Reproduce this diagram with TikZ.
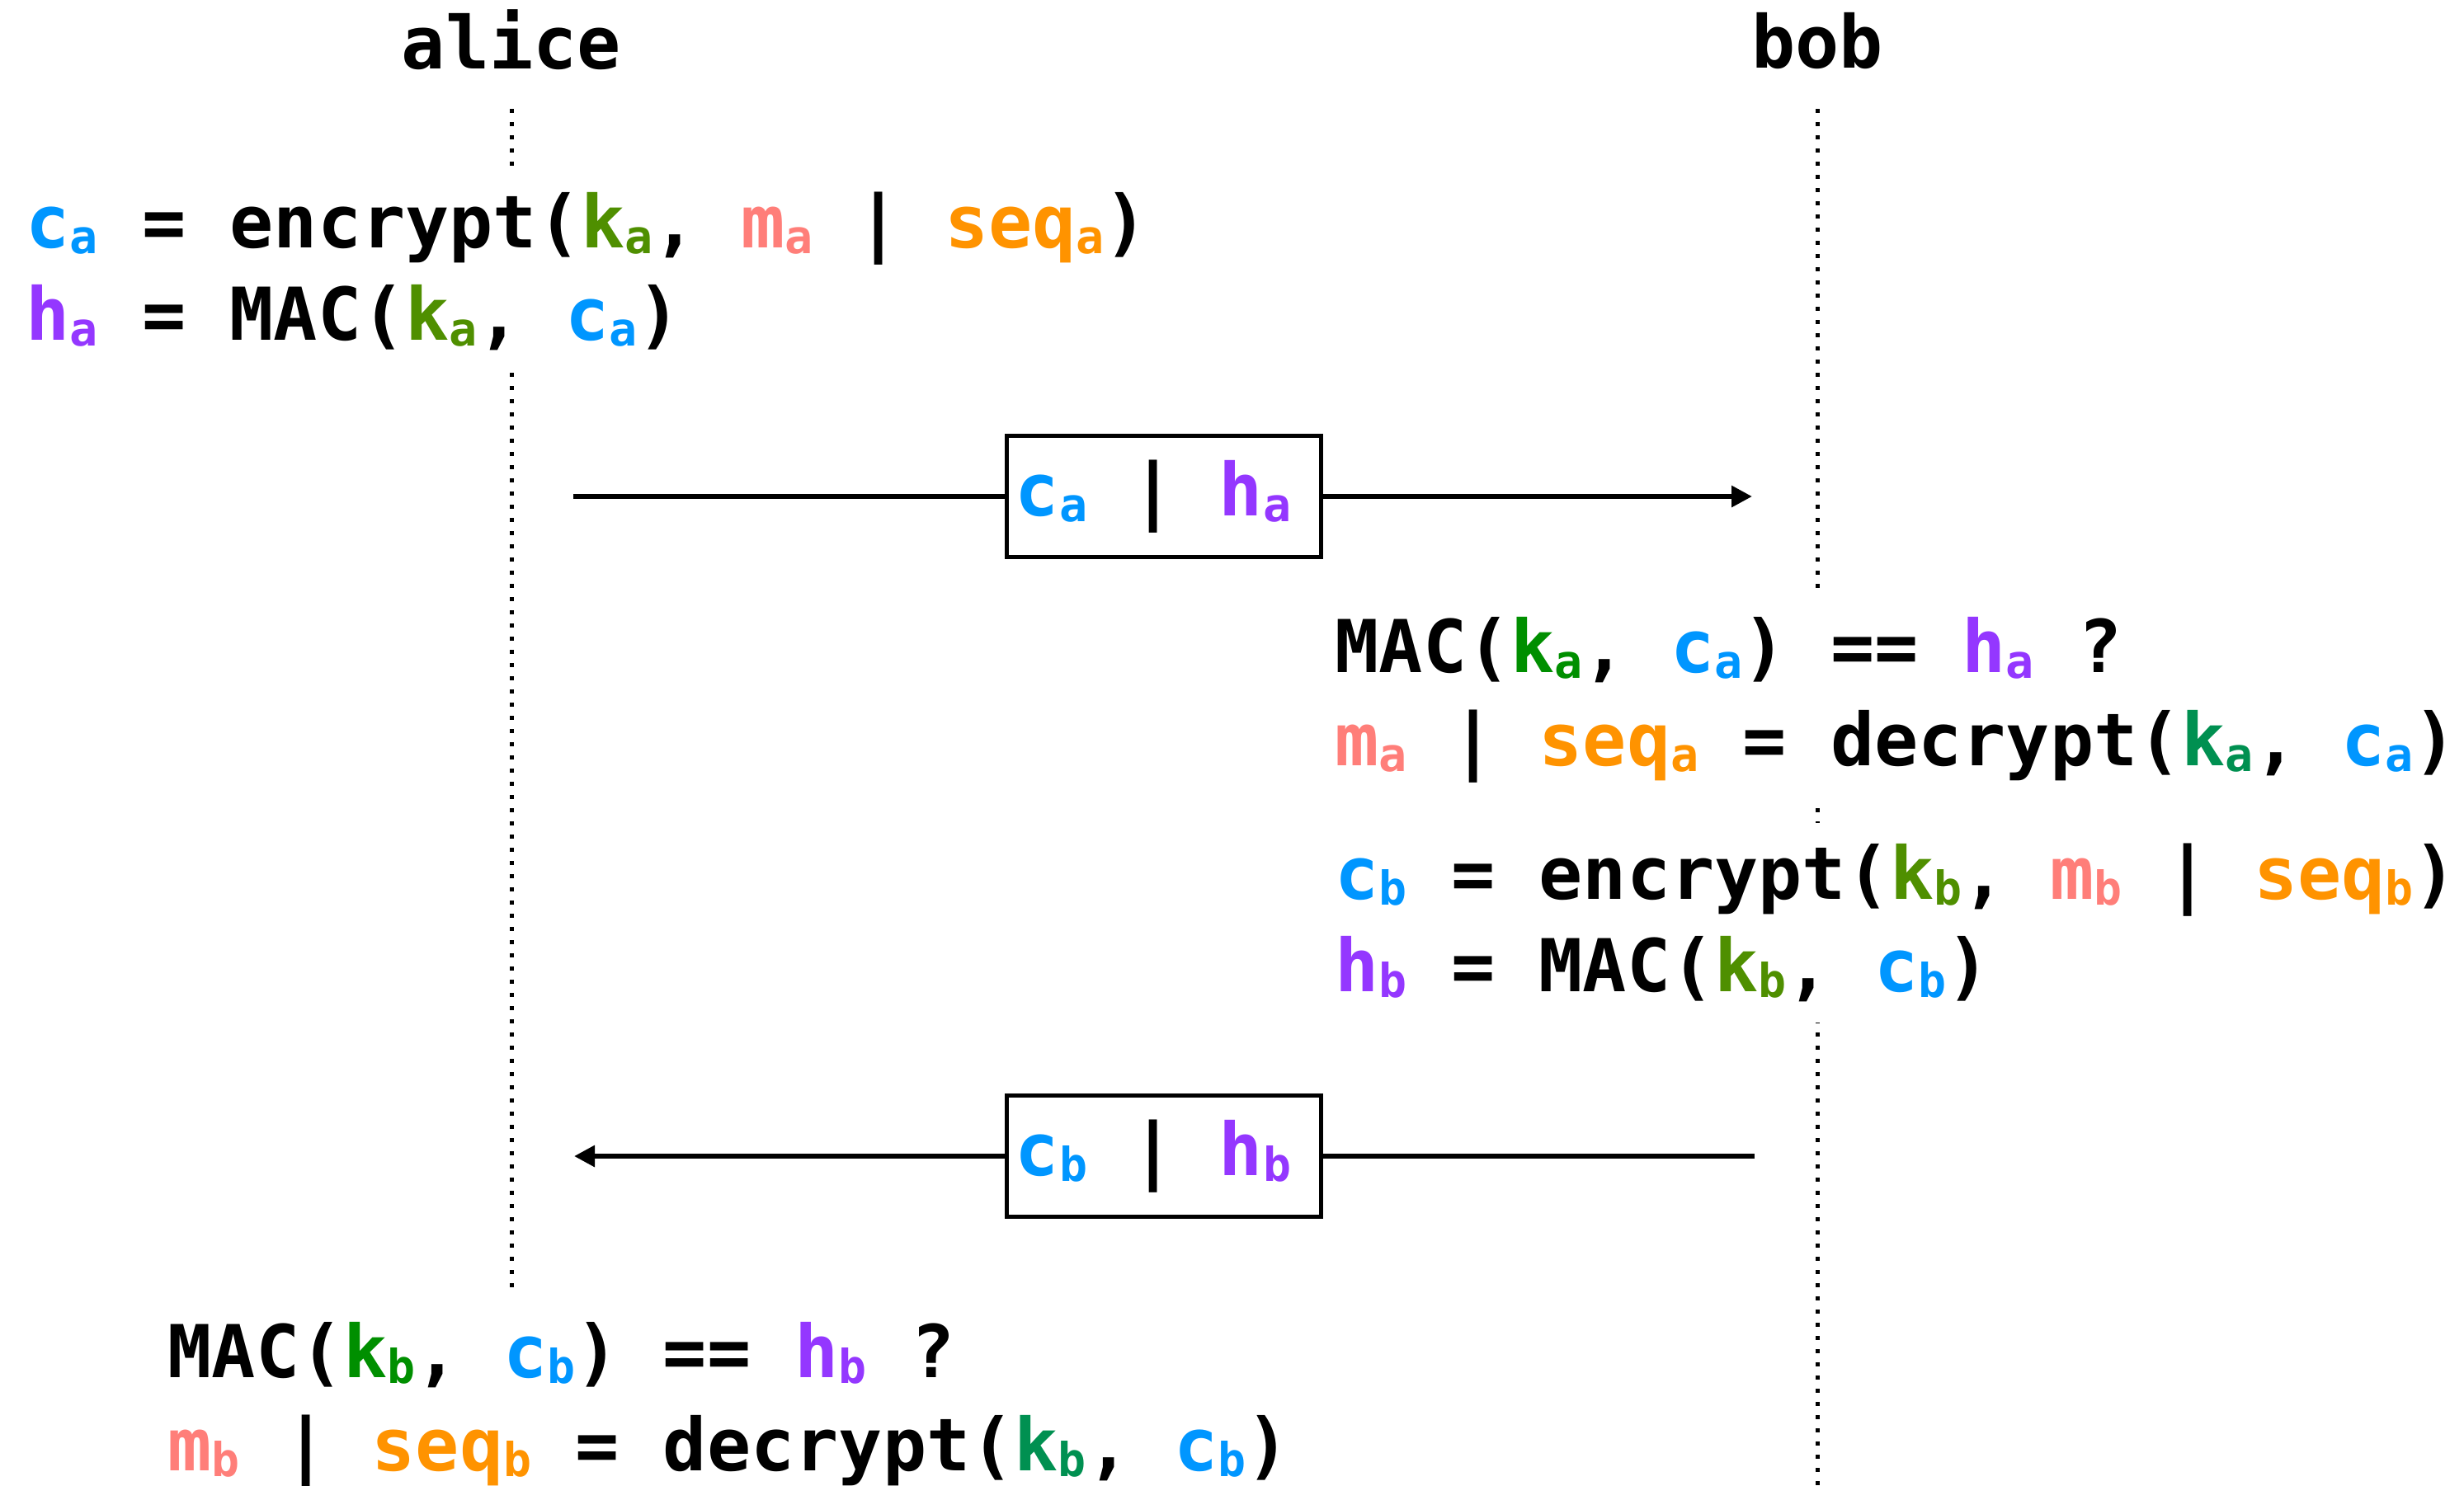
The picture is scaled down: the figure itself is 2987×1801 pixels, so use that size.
\documentclass[tikz,border=0pt]{standalone}
\usepackage{fontspec}
\setmonofont{DejaVu Sans Mono}
\usetikzlibrary{arrows.meta}

\definecolor{cblue}{HTML}{0096FF}
\definecolor{hpurple}{HTML}{9437FF}
\definecolor{msalmon}{HTML}{FF7E79}
\definecolor{seqorange}{HTML}{FF9300}
\definecolor{kfern}{HTML}{4F8F00}
\definecolor{kclover}{HTML}{008F00}
\definecolor{kmoss}{HTML}{009051}

\newcommand{\sub}[1]{\raisebox{-0.7mm}{\fontsize{16.1}{16}\selectfont #1}}
\newcommand{\cipher}[1]{\textcolor{cblue}{c\sub{#1}}}
\newcommand{\hmac}[1]{\textcolor{hpurple}{h\sub{#1}}}
\newcommand{\msg}[1]{\textcolor{msalmon}{m\sub{#1}}}
\newcommand{\seqn}[1]{\textcolor{seqorange}{seq\sub{#1}}}
\newcommand{\kenc}[1]{\textcolor{kfern}{k\sub{#1}}}
\newcommand{\kchk}[1]{\textcolor{kclover}{k\sub{#1}}}
\newcommand{\kdec}[1]{\textcolor{kmoss}{k\sub{#1}}}

\begin{document}
\begin{tikzpicture}[x=0.1mm, y=-0.1mm,
  every node/.style={font={\ttfamily\bfseries\fontsize{25.15}{32}\selectfont}},
  lifeline/.style={line width=0.5mm, dash pattern=on 0.5mm off 1.1mm},
  calc/.style={fill=white, align=left, inner xsep=3mm, inner ysep=2.5mm, anchor=north west},
  msgbox/.style={draw, fill=white, line width=0.5mm, minimum width=38.1mm, minimum height=14.7mm, inner sep=0pt},
  msgline/.style={line width=0.6mm}]
\useasboundingbox (0,0) rectangle (2987,1801);

% parties
\node[anchor=base] (alice) at (620,83) {alice};
\node[anchor=base] (bob) at (2203,82) {bob};
\coordinate (aliceEnd) at (620,1562);
\coordinate (bobEnd) at (2203,1801);
\draw[lifeline] ([yshift=-4.9mm]alice.base) -- (aliceEnd);
\draw[lifeline] ([yshift=-5mm]bob.base) -- (bobEnd);

% alice sends
\node[calc] (aliceSend) at (1,207) {\cipher{a} = encrypt(\kenc{a}, \msg{a} | \seqn{a})\\
\hmac{a} = MAC(\kenc{a}, \cipher{a})};

\coordinate (sendA) at (695,602);
\coordinate (recvB) at (2124,602);
\node[msgbox] (msgA) at (1411,602) {\cipher{a} | \hmac{a}\kern2.6mm};
\draw[msgline, -{Triangle[length=2.5mm, width=2.5mm]}] (sendA) -- (msgA) -- (recvB);

% bob checks and answers
\node[calc] (bobCheck) at (1588,723) {MAC(\kchk{a}, \cipher{a}) == \hmac{a} ?\\
\msg{a} | \seqn{a} = decrypt(\kdec{a}, \cipher{a})};
\node[calc] (bobSend) at (1588,997) {\cipher{b} = encrypt(\kenc{b}, \msg{b} | \seqn{b})\\
\hmac{b} = MAC(\kenc{b}, \cipher{b})};

\coordinate (sendB) at (2127,1402);
\coordinate (recvA) at (696,1402);
\node[msgbox] (msgB) at (1411,1402) {\cipher{b} | \hmac{b}\kern2.6mm};
\draw[msgline, -{Triangle[length=2.5mm, width=2.5mm]}] (sendB) -- (msgB) -- (recvA);

% alice checks
\node[calc] (aliceCheck) at (173,1578) {MAC(\kchk{b}, \cipher{b}) == \hmac{b} ?\\
\msg{b} | \seqn{b} = decrypt(\kdec{b}, \cipher{b})};
\end{tikzpicture}
\end{document}
